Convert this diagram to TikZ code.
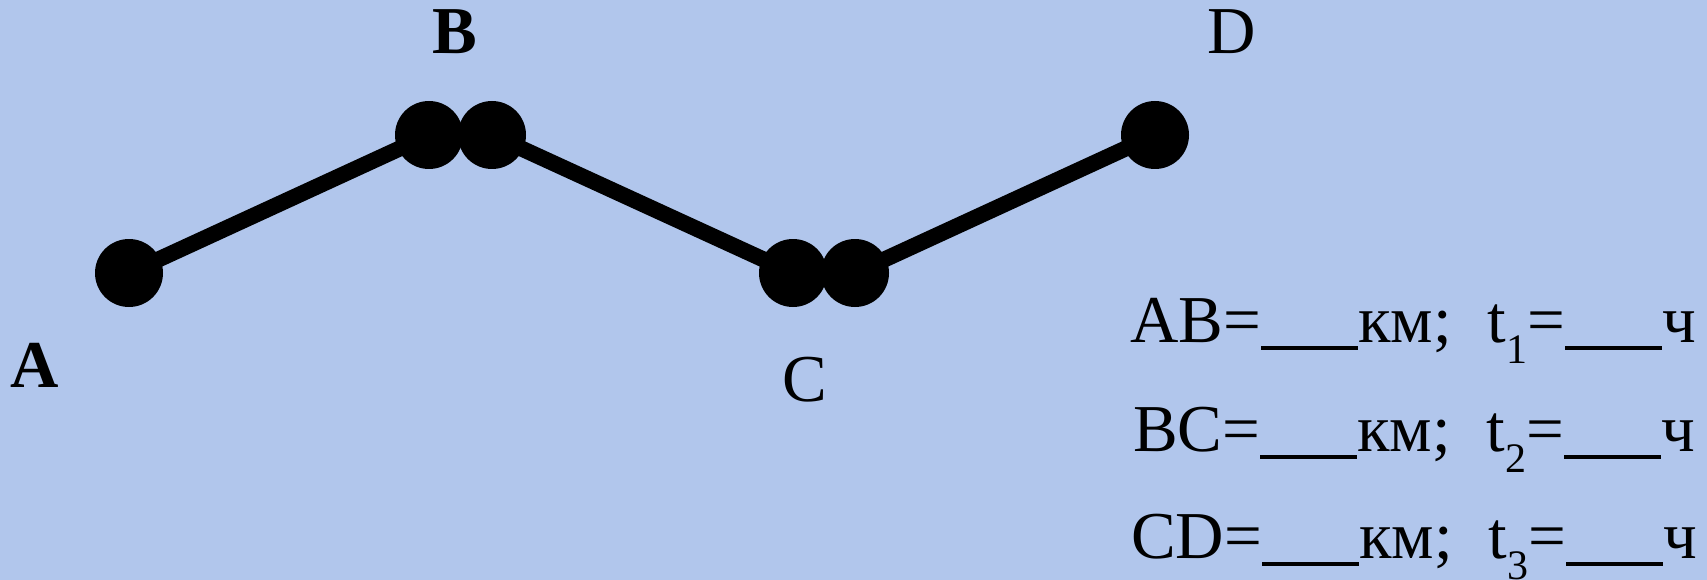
\documentclass[tikz,border=0pt]{standalone}
\usepackage{fontspec}
\setmainfont{Liberation Serif}
\definecolor{bg}{RGB}{177,198,236}
\newcommand\blankline{\rule[-8pt]{97pt}{4.5pt}}
\newcommand\subidx[1]{\raisebox{-21pt}{\fontsize{42pt}{42pt}\selectfont #1}}
\begin{document}
\begin{tikzpicture}[x=1pt,y=-1pt,
  dot/.style={circle,fill=black,inner sep=0pt,minimum size=68pt},
  seg/.style={line width=16pt},
  lbl/.style={inner sep=0pt,font=\fontsize{67pt}{67pt}\selectfont},
  eqline/.style={inner sep=0pt,anchor=base west,font=\fontsize{67pt}{80pt}\selectfont}]
\fill[bg] (0,0) rectangle (1707,580);
\useasboundingbox (0,0) rectangle (1707,580);
\node[dot] (a) at (129,273) {};
\node[dot] (b1) at (429,135) {};
\node[dot] (b2) at (492,135) {};
\node[dot] (c1) at (793,273) {};
\node[dot] (c2) at (855,273) {};
\node[dot] (d) at (1155,135) {};
\draw[seg] (a.center) -- (b1.center);
\draw[seg] (b2.center) -- (c1.center);
\draw[seg] (c2.center) -- (d.center);
\node[lbl,font=\fontsize{67pt}{67pt}\selectfont\bfseries] (la) at (35,365) {A};
\node[lbl,font=\fontsize{67pt}{67pt}\selectfont\bfseries] (lb) at (455,32) {B};
\node[lbl] (lc) at (805,380) {C};
\node[lbl] (ld) at (1232,32) {D};
\node[eqline] (e1) at (1130,342) {AB=\blankline км;\hspace{36pt}t\subidx{1}=\blankline ч};
\node[eqline] (e2) at (1133,451) {BC=\blankline км;\hspace{36pt}t\subidx{2}=\blankline ч};
\node[eqline] (e3) at (1131,558) {CD=\blankline км;\hspace{36pt}t\subidx{3}=\blankline ч};
\end{tikzpicture}
\end{document}
